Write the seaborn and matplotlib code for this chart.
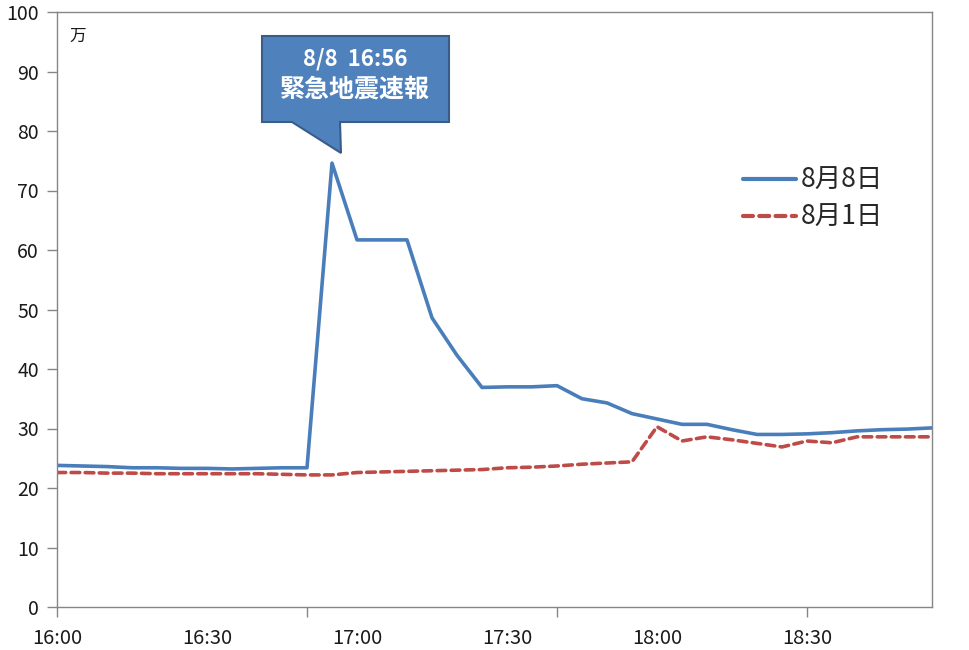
import numpy as np
import pandas as pd
import matplotlib
matplotlib.use("Agg")
import matplotlib.pyplot as plt
from matplotlib.patches import Polygon
import seaborn as sns

# ---- data (5-minute intervals from 16:00 to 18:55) ----
times = ["16:00", "16:05", "16:10", "16:15", "16:20", "16:25", "16:30", "16:35", "16:40", "16:45",
         "16:50", "16:55", "17:00", "17:05", "17:10", "17:15", "17:20", "17:25", "17:30", "17:35",
         "17:40", "17:45", "17:50", "17:55", "18:00", "18:05", "18:10", "18:15", "18:20", "18:25",
         "18:30", "18:35", "18:40", "18:45", "18:50", "18:55"]
aug8 = [23.8, 23.7, 23.6, 23.4, 23.4, 23.3, 23.3, 23.2, 23.3, 23.4,
        23.4, 74.6, 61.7, 61.7, 61.7, 48.6, 42.3, 36.9, 37.0, 37.0,
        37.2, 35.0, 34.3, 32.5, 31.6, 30.7, 30.7, 29.8, 29.0, 29.0,
        29.1, 29.3, 29.6, 29.8, 29.9, 30.1]
aug1 = [22.6, 22.6, 22.5, 22.5, 22.4, 22.4, 22.4, 22.4, 22.4, 22.3,
        22.2, 22.2, 22.6, 22.7, 22.8, 22.9, 23.0, 23.1, 23.4, 23.5,
        23.7, 24.0, 24.2, 24.4, 30.3, 27.9, 28.6, 28.1, 27.5, 26.9,
        27.9, 27.6, 28.6, 28.6, 28.6, 28.6]
series_names = ["8月8日", "8月1日"]
label_every = 6      # labels every 30 minutes
tick_every = 10      # tick marks every 10 categories
yticks = [0, 10, 20, 30, 40, 50, 60, 70, 80, 90, 100]
unit_label = "万"
callout_lines = ["8/8  16:56", "緊急地震速報"]

n = len(times)
df = pd.DataFrame({
    "idx": list(range(n)) * 2,
    "value": aug8 + aug1,
    "series": [series_names[0]] * n + [series_names[1]] * n,
})

sns.set_theme(style="white")
plt.rcParams["font.family"] = ["Noto Sans CJK JP", "DejaVu Sans"]

W, H = 969, 650
fig = plt.figure(figsize=(W / 100, H / 100), dpi=100)
L, R, T, B = 57, 932, 12, 607
ax = fig.add_axes([L / W, 1 - B / H, (R - L) / W, (B - T) / H])

blue = "#4A7EBB"
red = "#BE4B48"
sns.lineplot(data=df, x="idx", y="value", hue="series", style="series",
             palette={series_names[0]: blue, series_names[1]: red},
             dashes={series_names[0]: "", series_names[1]: (2.4, 1.5)},
             linewidth=2.6, ax=ax, legend=True)
for ln in ax.get_lines():
    ln.set_dash_capstyle("round")

ax.set_xlim(0, n - 1)
ax.set_ylim(0, 100)
ax.set_xlabel("")
ax.set_ylabel("")

# y axis
ax.set_yticks(yticks)
ax.set_yticklabels([str(v) for v in yticks], fontsize=14, color="#1a1a1a")
# x axis: tick marks every 10 categories (major, unlabeled), labels every 30 min (minor, no mark)
ax.xaxis.remove_overlapping_locs = False
ax.set_xticks(list(range(0, n, tick_every)))
ax.set_xticklabels([""] * len(range(0, n, tick_every)))
lab_pos = list(range(0, n, label_every))
ax.set_xticks(lab_pos, minor=True)
ax.set_xticklabels([times[i] for i in lab_pos], minor=True, fontsize=14.5, color="#1a1a1a")
ax.tick_params(axis="x", which="minor", length=0, pad=15, bottom=True)
ax.tick_params(axis="x", which="major", length=7, width=1, color="#868686", direction="out", bottom=True)
ax.tick_params(axis="y", which="major", length=7, width=1, color="#868686", direction="out", left=True, pad=6)

for s in ax.spines.values():
    s.set_color("#868686")
    s.set_linewidth(1.0)
    s.set_visible(True)

# unit label
ax.text(12 / (R - L), 1 - 24 / (B - T), unit_label, transform=ax.transAxes,
        fontsize=12, ha="left", va="center", color="#1a1a1a")

# legend
h, l = ax.get_legend_handles_labels()
leg = ax.legend(h, l, loc="upper left", bbox_to_anchor=(730 / W, 1 - 154 / H),
                bbox_transform=fig.transFigure, frameon=False, fontsize=19,
                handlelength=2.0, handletextpad=0.2, labelspacing=0.38, borderpad=0)
for line in leg.get_lines():
    line.set_linewidth(3.0)

# callout box (speech bubble)
pts_px = [(262, 36), (449, 36), (449, 122), (340, 122), (341, 153), (292, 122), (262, 122)]
pts = [(x / W, 1 - y / H) for x, y in pts_px]
fig.patches.append(Polygon(pts, closed=True, transform=fig.transFigure,
                           facecolor="#4F81BD", edgecolor="#385D8A", linewidth=1.5, zorder=5))
fig.text(355 / W, 1 - 59 / H, callout_lines[0], fontsize=16, fontweight="bold", color="white",
         ha="center", va="center", zorder=6)
fig.text(355 / W, 1 - 90 / H, callout_lines[1], fontsize=18, fontweight="bold", color="white",
         ha="center", va="center", zorder=6)

fig.savefig("out.png", dpi=100)
